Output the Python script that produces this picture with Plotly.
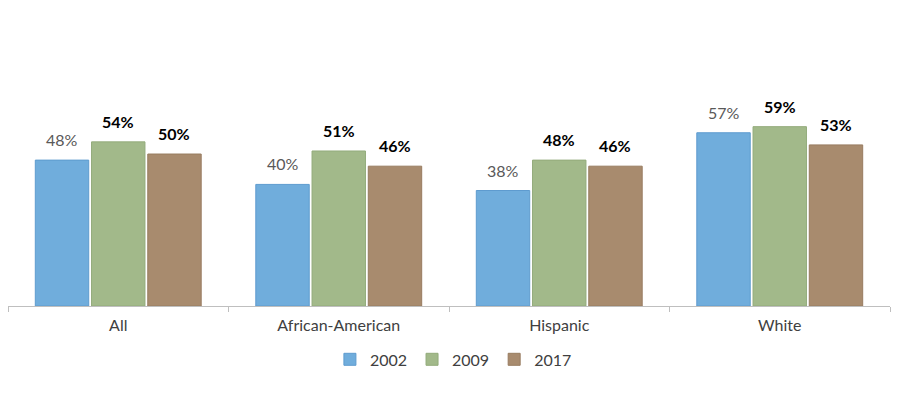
import plotly.graph_objects as go

#%% data
categories = ['All', 'African-American', 'Hispanic', 'White']
years = ['2002', '2009', '2017']
values_2002 = [48, 40, 38, 57]
values_2009 = [54, 51, 48, 59]
values_2017 = [50, 46, 46, 53]

#%% styling
label_gray = dict(color='#595959', size=16, family='Lato')
label_bold = dict(color='#000000', size=16, family='Lato', weight='bold')
series = [
    (years[0], values_2002, '#70ADDC', '#5E9BCF', label_gray, -56),
    (years[1], values_2009, '#A2B98A', '#93AB7B', label_bold, 0),
    (years[2], values_2017, '#A88B6E', '#987C60', label_bold, 56),
]

fig = go.Figure()
for name, vals, fill, edge, tfont, shift in series:
    fig.add_trace(go.Bar(
        x=categories,
        y=vals,
        name=name,
        marker=dict(color=fill, line=dict(color=edge, width=1)),
    ))
    # value labels sit a bit higher than plotly's outside text
    for cat, v in zip(categories, vals):
        fig.add_annotation(
            x=cat, y=v,
            text=f'{v}%',
            showarrow=False,
            xshift=shift,
            yanchor='bottom',
            yshift=9,
            font=tfont,
        )

# page body adds an 8px offset, so the figure is sized to compensate
fig.update_layout(
    width=892,
    height=406,
    margin=dict(l=0, r=10, t=2, b=108),
    plot_bgcolor='white',
    paper_bgcolor='white',
    barmode='group',
    bargap=0.235,
    bargroupgap=0.05,
    font=dict(family='Lato', size=16, color='#404040'),
    legend=dict(
        orientation='h',
        x=0.505,
        xanchor='center',
        y=-0.123,
        yanchor='top',
        font=dict(size=16, color='#404040'),
        itemwidth=30,
        traceorder='normal',
    ),
    showlegend=True,
)
fig.update_xaxes(
    showline=True,
    linecolor='#BFBFBF',
    linewidth=1,
    ticks='outside',
    tickson='boundaries',
    tickcolor='#BFBFBF',
    ticklen=5,
    ticklabelstandoff=5,
    tickfont=dict(size=16, color='#404040'),
)
fig.update_yaxes(
    range=[0, 298 / 3.06],
    visible=False,
    showgrid=False,
)
fig.write_html('out.html')
